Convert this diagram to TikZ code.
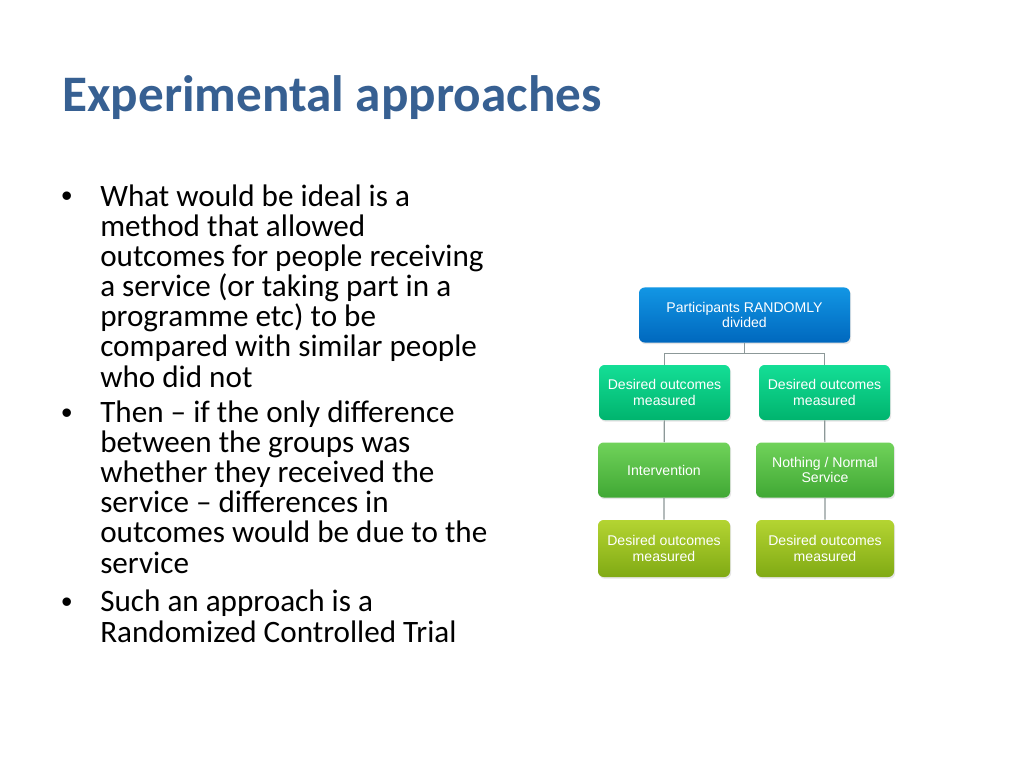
\documentclass[tikz,border=0pt]{standalone}
\usepackage{fontspec}
\setmainfont{Carlito}
\newfontfamily\boxfont{Liberation Sans}
\usepackage{tikz}
\usetikzlibrary{shadows}
\definecolor{titolo}{RGB}{55,96,146}
\definecolor{blutop}{RGB}{18,150,228}
\definecolor{blubot}{RGB}{0,104,190}
\definecolor{acquatop}{RGB}{20,222,150}
\definecolor{acquabot}{RGB}{0,180,110}
\definecolor{verdetop}{RGB}{112,210,90}
\definecolor{verdebot}{RGB}{64,168,52}
\definecolor{limetop}{RGB}{180,212,50}
\definecolor{limebot}{RGB}{128,170,20}
\definecolor{linea}{RGB}{140,152,152}
\def\px{0.703125pt}
\tikzset{
  slide/.style={x=\px,y=-\px},
  slide title/.style={anchor=base west,inner sep=0pt,text=titolo,
    font={\fontsize{36}{40}\selectfont\bfseries}},
  bullet/.style={anchor=base west,inner sep=0pt,
    font={\fontsize{21.9}{21.1}\selectfont\lineskiplimit=-30pt}},
  bullet mark/.style={bullet,font={\boxfont\fontsize{21.9}{21.1}\selectfont}},
  bullet text/.style={bullet,align=left},
  box/.style={rounded corners=4pt,inner sep=0pt,align=center,text=white,
    minimum height=55*\px,
    font={\boxfont\fontsize{9.9}{10.6}\selectfont},
    drop shadow={shadow xshift=0.8pt,shadow yshift=-1.2pt,opacity=0.2}},
  box type/.style n args={3}{
    #1/.style={box,top color=#2,bottom color=#3}
  },
  box type={blu}{blutop}{blubot},
  box type={acqua}{acquatop}{acquabot},
  box type={verde}{verdetop}{verdebot},
  box type={lime}{limetop}{limebot},
  link/.style={linea,line width=0.8pt}
}
\begin{document}
\begin{tikzpicture}[slide]
    \useasboundingbox[fill=white] (0,0) rectangle (1024,768);

    \node[slide title] (title) at (62,112) {Experimental approaches};

    % bullet list (nodes sit on the baseline of their last line)
    \foreach \y in {207,423,612}
        \node[bullet mark] at (61,\y) {\textbullet};
    \node[bullet text] (ideal) at (100,387) {What would be ideal is a\\
        method that allowed\\
        outcomes for people receiving\\
        a service (or taking part in a\\
        programme etc) to be\\
        compared with similar people\\
        who did not};
    \node[bullet text] (then) at (100,573) {Then -- if the only difference\\
        between the groups was\\
        whether they received the\\
        service -- differences in\\
        outcomes would be due to the\\
        service};
    \node[bullet text] (rct) at (100,642) {Such an approach is a\\
        Randomized Controlled Trial};

    % trial diagram
    \node[blu,minimum width=211*\px] (random) at (744.5,315) {Participants RANDOMLY\\divided};
    \node[acqua,minimum width=131*\px] (preL) at (664.5,392.5) {Desired outcomes\\measured};
    \node[acqua,minimum width=131*\px] (preR) at (824.5,392.5) {Desired outcomes\\measured};
    \node[verde,minimum width=132*\px] (interv) at (664,470) {Intervention};
    \node[verde,minimum width=138*\px] (normal) at (825,470) {Nothing / Normal\\Service};
    \node[lime,minimum width=132*\px,minimum height=57*\px] (postL) at (664,548.5) {Desired outcomes\\measured};
    \node[lime,minimum width=138*\px,minimum height=57*\px] (postR) at (825,548.5) {Desired outcomes\\measured};

    \draw[link] (random.south) -- ++(0,10.5) coordinate (split) -| (preL.north);
    \draw[link] (split) -| (preR.north);
    \draw[link] (preL) -- (interv) -- (postL);
    \draw[link] (preR) -- (normal) -- (postR);
\end{tikzpicture}
\end{document}
